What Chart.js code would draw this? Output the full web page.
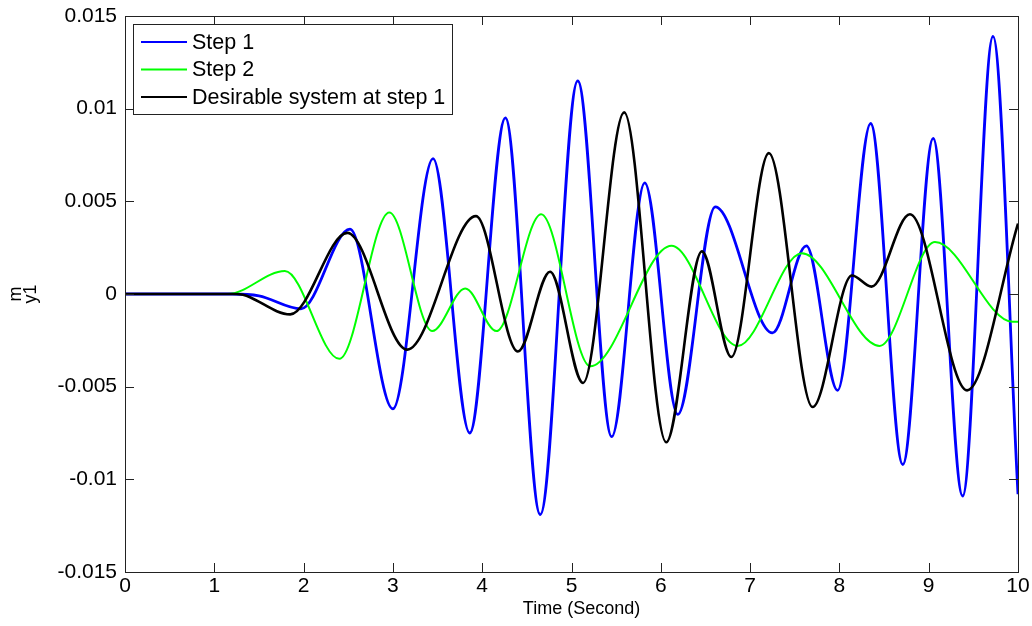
<!DOCTYPE html>
<html>
<head>
<meta charset="utf-8">
<title>y1 response</title>
<script src="https://cdn.jsdelivr.net/npm/chart.js@4/dist/chart.umd.min.js"></script>
<style>
  html, body { margin: 0; padding: 0; background: #fff; }
  #chart { display: block; }
</style>
</head>
<body>
<canvas id="chart" width="1032" height="626"></canvas>
<script>
// Step 1 response: turning points
const step1Time = [0, 1.2, 1.5, 1.97, 2.52, 3.0, 3.45, 3.86, 4.26, 4.65, 5.07, 5.45, 5.82, 6.19, 6.61, 7.25, 7.63, 7.98, 8.35, 8.71, 9.05, 9.38, 9.72, 10];
const step1Y = [0, 0, -0.0001, -0.0008, 0.0035, -0.0062, 0.0073, -0.0075, 0.0095, -0.0119, 0.0115, -0.0077, 0.006, -0.0065, 0.0047, -0.0021, 0.0026, -0.0052, 0.0092, -0.0092, 0.0084, -0.0109, 0.0139, -0.0108];

// Step 2 response
const step2Time = [0, 1.15, 1.79, 2.4, 2.96, 3.44, 3.81, 4.16, 4.66, 5.21, 6.12, 6.86, 7.58, 8.45, 9.07, 9.94, 10];
const step2Y = [0, 0, 0.00124, -0.0035, 0.0044, -0.002, 0.0003, -0.002, 0.0043, -0.0039, 0.0026, -0.0028, 0.0022, -0.0028, 0.0028, -0.0015, -0.0015];

// Desirable system at step 1
const desiredTime = [0, 1.25, 1.85, 2.49, 3.16, 3.93, 4.4, 4.76, 5.13, 5.59, 6.06, 6.46, 6.79, 7.21, 7.7, 8.14, 8.36, 8.79, 9.43, 10];
const desiredY = [0, 0, -0.0011, 0.0033, -0.003, 0.0042, -0.0031, 0.0012, -0.0048, 0.0098, -0.008, 0.0023, -0.0034, 0.0076, -0.0061, 0.001, 0.0004, 0.0043, -0.0052, 0.0038];

const seriesLabels = ['Step 1', 'Step 2', 'Desirable system at step 1'];
const xTicks = [0, 1, 2, 3, 4, 5, 6, 7, 8, 9, 10];
const yTicks = [-0.015, -0.01, -0.005, 0, 0.005, 0.01, 0.015];
const xTitle = 'Time (Second)';

const FONT = '"Liberation Sans", Arial, Helvetica, sans-serif';

function toPoints(xs, ys) {
    return xs.map((x, i) => ({ x: x, y: ys[i] }));
}

// MATLAB style box: full frame plus tick marks pointing inward on all four sides
const boxPlugin = {
    id: 'box',
    afterDatasetsDraw(chart) {
        const { ctx, chartArea: a, scales } = chart;
        const len = 9;
        ctx.save();
        ctx.strokeStyle = '#222';
        ctx.lineWidth = 1;
        ctx.beginPath();
        xTicks.forEach(v => {
            const px = Math.round(scales.x.getPixelForValue(v)) + 0.5;
            ctx.moveTo(px, a.bottom); ctx.lineTo(px, a.bottom - len);
            ctx.moveTo(px, a.top); ctx.lineTo(px, a.top + len);
        });
        yTicks.forEach(v => {
            const py = Math.round(scales.y.getPixelForValue(v)) + 0.5;
            ctx.moveTo(a.left, py); ctx.lineTo(a.left + len, py);
            ctx.moveTo(a.right, py); ctx.lineTo(a.right - len, py);
        });
        ctx.stroke();
        ctx.strokeRect(Math.round(a.left) + 0.5, Math.round(a.top) + 0.5,
            Math.round(a.right - a.left), Math.round(a.bottom - a.top));

        // x axis label, sits a little right of the axes centre
        ctx.font = '18px ' + FONT;
        ctx.fillStyle = '#000';
        ctx.textAlign = 'center';
        ctx.textBaseline = 'middle';
        ctx.fillText(xTitle, (a.left + a.right) / 2 + 10, 609);
        ctx.restore();
    }
};

// legend box in the upper left corner of the axes
const insideLegend = {
    id: 'insideLegend',
    afterDraw(chart) {
        const { ctx, chartArea: a } = chart;
        const x0 = a.left + 8, y0 = a.top + 8;
        const rowH = 27.5, sample = 46, gap = 5;
        ctx.save();
        ctx.font = '21.5px ' + FONT;
        let maxW = 0;
        chart.data.datasets.forEach(ds => { maxW = Math.max(maxW, ctx.measureText(ds.label).width); });
        const w = 8 + sample + gap + maxW + 7;
        const h = rowH * chart.data.datasets.length + 7;
        ctx.fillStyle = '#fff';
        ctx.fillRect(x0, y0, w, h);
        ctx.strokeStyle = '#222';
        ctx.lineWidth = 1;
        ctx.strokeRect(Math.round(x0) + 0.5, Math.round(y0) + 0.5, Math.round(w), Math.round(h));
        chart.data.datasets.forEach((ds, i) => {
            const cy = y0 + 18 + i * rowH;
            ctx.strokeStyle = ds.borderColor;
            ctx.lineWidth = 2;
            ctx.beginPath();
            ctx.moveTo(x0 + 8, cy);
            ctx.lineTo(x0 + 8 + sample, cy);
            ctx.stroke();
            ctx.fillStyle = '#000';
            ctx.textBaseline = 'middle';
            ctx.fillText(ds.label, x0 + 8 + sample + gap, cy + 1);
        });
        ctx.restore();
    }
};

new Chart(document.getElementById('chart'), {
    type: 'line',
    data: {
        datasets: [
            {
                label: seriesLabels[0],
                data: toPoints(step1Time, step1Y),
                borderColor: '#0000ff',
                borderWidth: 2.8,
                order: 3
            },
            {
                label: seriesLabels[1],
                data: toPoints(step2Time, step2Y),
                borderColor: '#00ff00',
                borderWidth: 2,
                order: 2
            },
            {
                label: seriesLabels[2],
                data: toPoints(desiredTime, desiredY),
                borderColor: '#000000',
                borderWidth: 2.6,
                order: 1
            }
        ]
    },
    options: {
        responsive: false,
        animation: false,
        events: [],
        layout: { padding: { left: 0, right: 14, top: 16, bottom: 0 } },
        elements: {
            point: { radius: 0 },
            line: { cubicInterpolationMode: 'monotone', fill: false }
        },
        plugins: {
            legend: { display: false },
            tooltip: { enabled: false }
        },
        scales: {
            x: {
                type: 'linear',
                min: 0,
                max: 10,
                afterBuildTicks: s => { s.ticks = xTicks.map(v => ({ value: v })); },
                afterFit: s => { s.height = 54; },
                grid: { display: false, drawTicks: false, tickLength: 0 },
                border: { display: false },
                ticks: { color: '#000', padding: 2, font: { family: FONT, size: 21 } }
            },
            y: {
                type: 'linear',
                min: -0.015,
                max: 0.015,
                afterBuildTicks: s => { s.ticks = yTicks.map(v => ({ value: v })); },
                afterFit: s => { s.width = 125; s.paddingTop = 0; s.paddingBottom = 0; },
                grid: { display: false, drawTicks: false, tickLength: 0 },
                border: { display: false },
                ticks: {
                    color: '#000',
                    padding: 8,
                    font: { family: FONT, size: 21, lineHeight: 0.6 },
                    callback: v => String(parseFloat(v.toFixed(3)))
                },
                title: {
                    display: true,
                    text: ['m', 'y1'],
                    color: '#000',
                    padding: { top: 8, bottom: 0 },
                    font: { family: FONT, size: 18, lineHeight: 0.85 }
                }
            }
        }
    },
    plugins: [boxPlugin, insideLegend]
});
</script>
</body>
</html>
